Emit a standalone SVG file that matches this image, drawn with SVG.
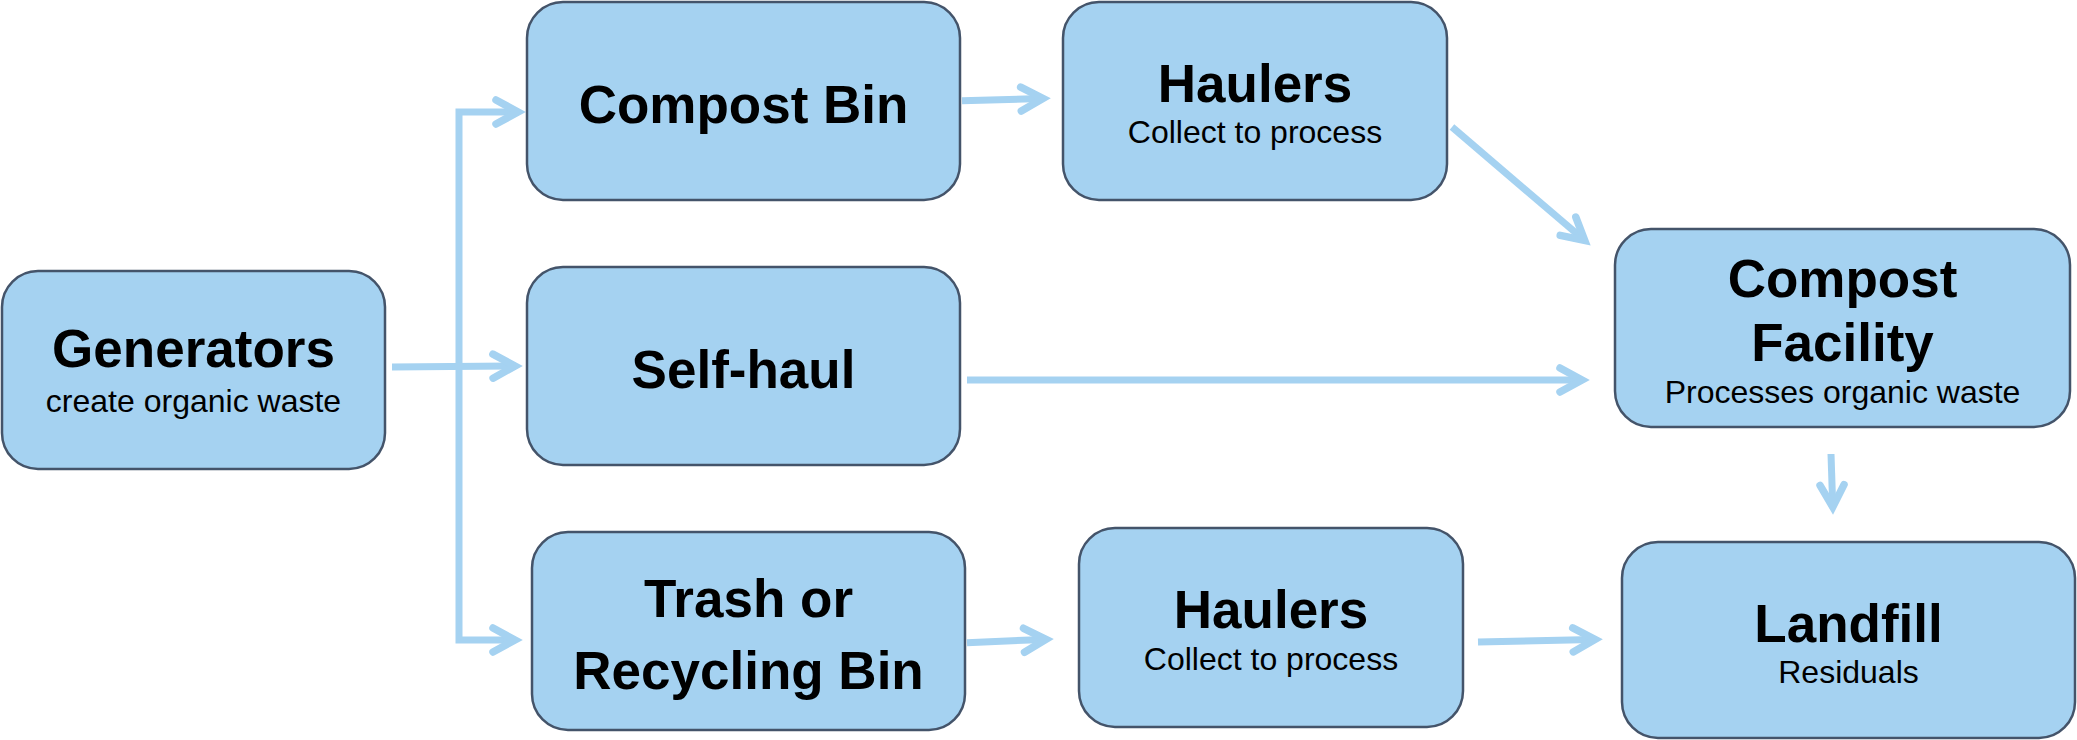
<svg xmlns="http://www.w3.org/2000/svg" width="2077" height="740" viewBox="0 0 2077 740">
<style>
.box{fill:#a5d2f1;stroke:#44546a;stroke-width:2.5}
.t{font-family:"Liberation Sans",Arial,sans-serif;font-weight:bold;font-size:53px;fill:#000;text-anchor:middle}
.s{font-family:"Liberation Sans",Arial,sans-serif;font-size:32px;fill:#000;text-anchor:middle}
.conn{fill:none;stroke:#a5d2f1;stroke-width:7;stroke-linejoin:miter;stroke-linecap:butt}
.head{fill:none;stroke:#a5d2f1;stroke-width:7.5;stroke-linejoin:miter;stroke-linecap:round}
</style>
<defs>
<marker id="arr" markerUnits="userSpaceOnUse" markerWidth="60" markerHeight="60" refX="0" refY="0" orient="auto" overflow="visible">
<path class="head" d="M -20 -12 L 2 0 L -20 12"/>
</marker>
</defs>
<rect width="2077" height="740" fill="#fff"/>
<g id="connectors">
<path class="conn" d="M 459 363 L 459 112 L 516 112" marker-end="url(#arr)"/>
<path class="conn" d="M 459 363 L 459 640 L 513 640" marker-end="url(#arr)"/>
<path class="conn" d="M 392 367 L 513 366" marker-end="url(#arr)"/>
<path class="conn" d="M 962 100.7 L 1041 98.5" marker-end="url(#arr)"/>
<path class="conn" d="M 1452 127 L 1583.2 239.2" marker-end="url(#arr)"/>
<path class="conn" d="M 967 380 L 1580 380" marker-end="url(#arr)"/>
<path class="conn" d="M 1831 454 L 1832.7 505" marker-end="url(#arr)"/>
<path class="conn" d="M 967 642.7 L 1044 639.4" marker-end="url(#arr)"/>
<path class="conn" d="M 1478 642 L 1593 639.5" marker-end="url(#arr)"/>
</g>
<g id="generators">
<rect class="box" x="2" y="271" width="383" height="198" rx="36"/>
<text class="t" x="193.5" y="367">Generators</text>
<text class="s" x="193.5" y="412">create organic waste</text>
</g>
<g id="compost-bin">
<rect class="box" x="527" y="2" width="433" height="198" rx="36"/>
<text class="t" x="743.5" y="123">Compost Bin</text>
</g>
<g id="self-haul">
<rect class="box" x="527" y="267" width="433" height="198" rx="36"/>
<text class="t" x="743.5" y="388">Self-haul</text>
</g>
<g id="trash-bin">
<rect class="box" x="532" y="532" width="433" height="198" rx="36"/>
<text class="t" x="748.5" y="617">Trash or</text>
<text class="t" x="748.5" y="689">Recycling Bin</text>
</g>
<g id="haulers-top">
<rect class="box" x="1063" y="2" width="384" height="198" rx="36"/>
<text class="t" x="1255" y="102">Haulers</text>
<text class="s" x="1255" y="143">Collect to process</text>
</g>
<g id="compost-facility">
<rect class="box" x="1615" y="229" width="455" height="198" rx="36"/>
<text class="t" x="1842.5" y="297">Compost</text>
<text class="t" x="1842.5" y="361">Facility</text>
<text class="s" x="1842.5" y="403">Processes organic waste</text>
</g>
<g id="haulers-bottom">
<rect class="box" x="1079" y="528" width="384" height="199" rx="36"/>
<text class="t" x="1271" y="628">Haulers</text>
<text class="s" x="1271" y="670">Collect to process</text>
</g>
<g id="landfill">
<rect class="box" x="1622" y="542" width="453" height="196" rx="36"/>
<text class="t" x="1848.5" y="642">Landfill</text>
<text class="s" x="1848.5" y="683">Residuals</text>
</g>
</svg>
